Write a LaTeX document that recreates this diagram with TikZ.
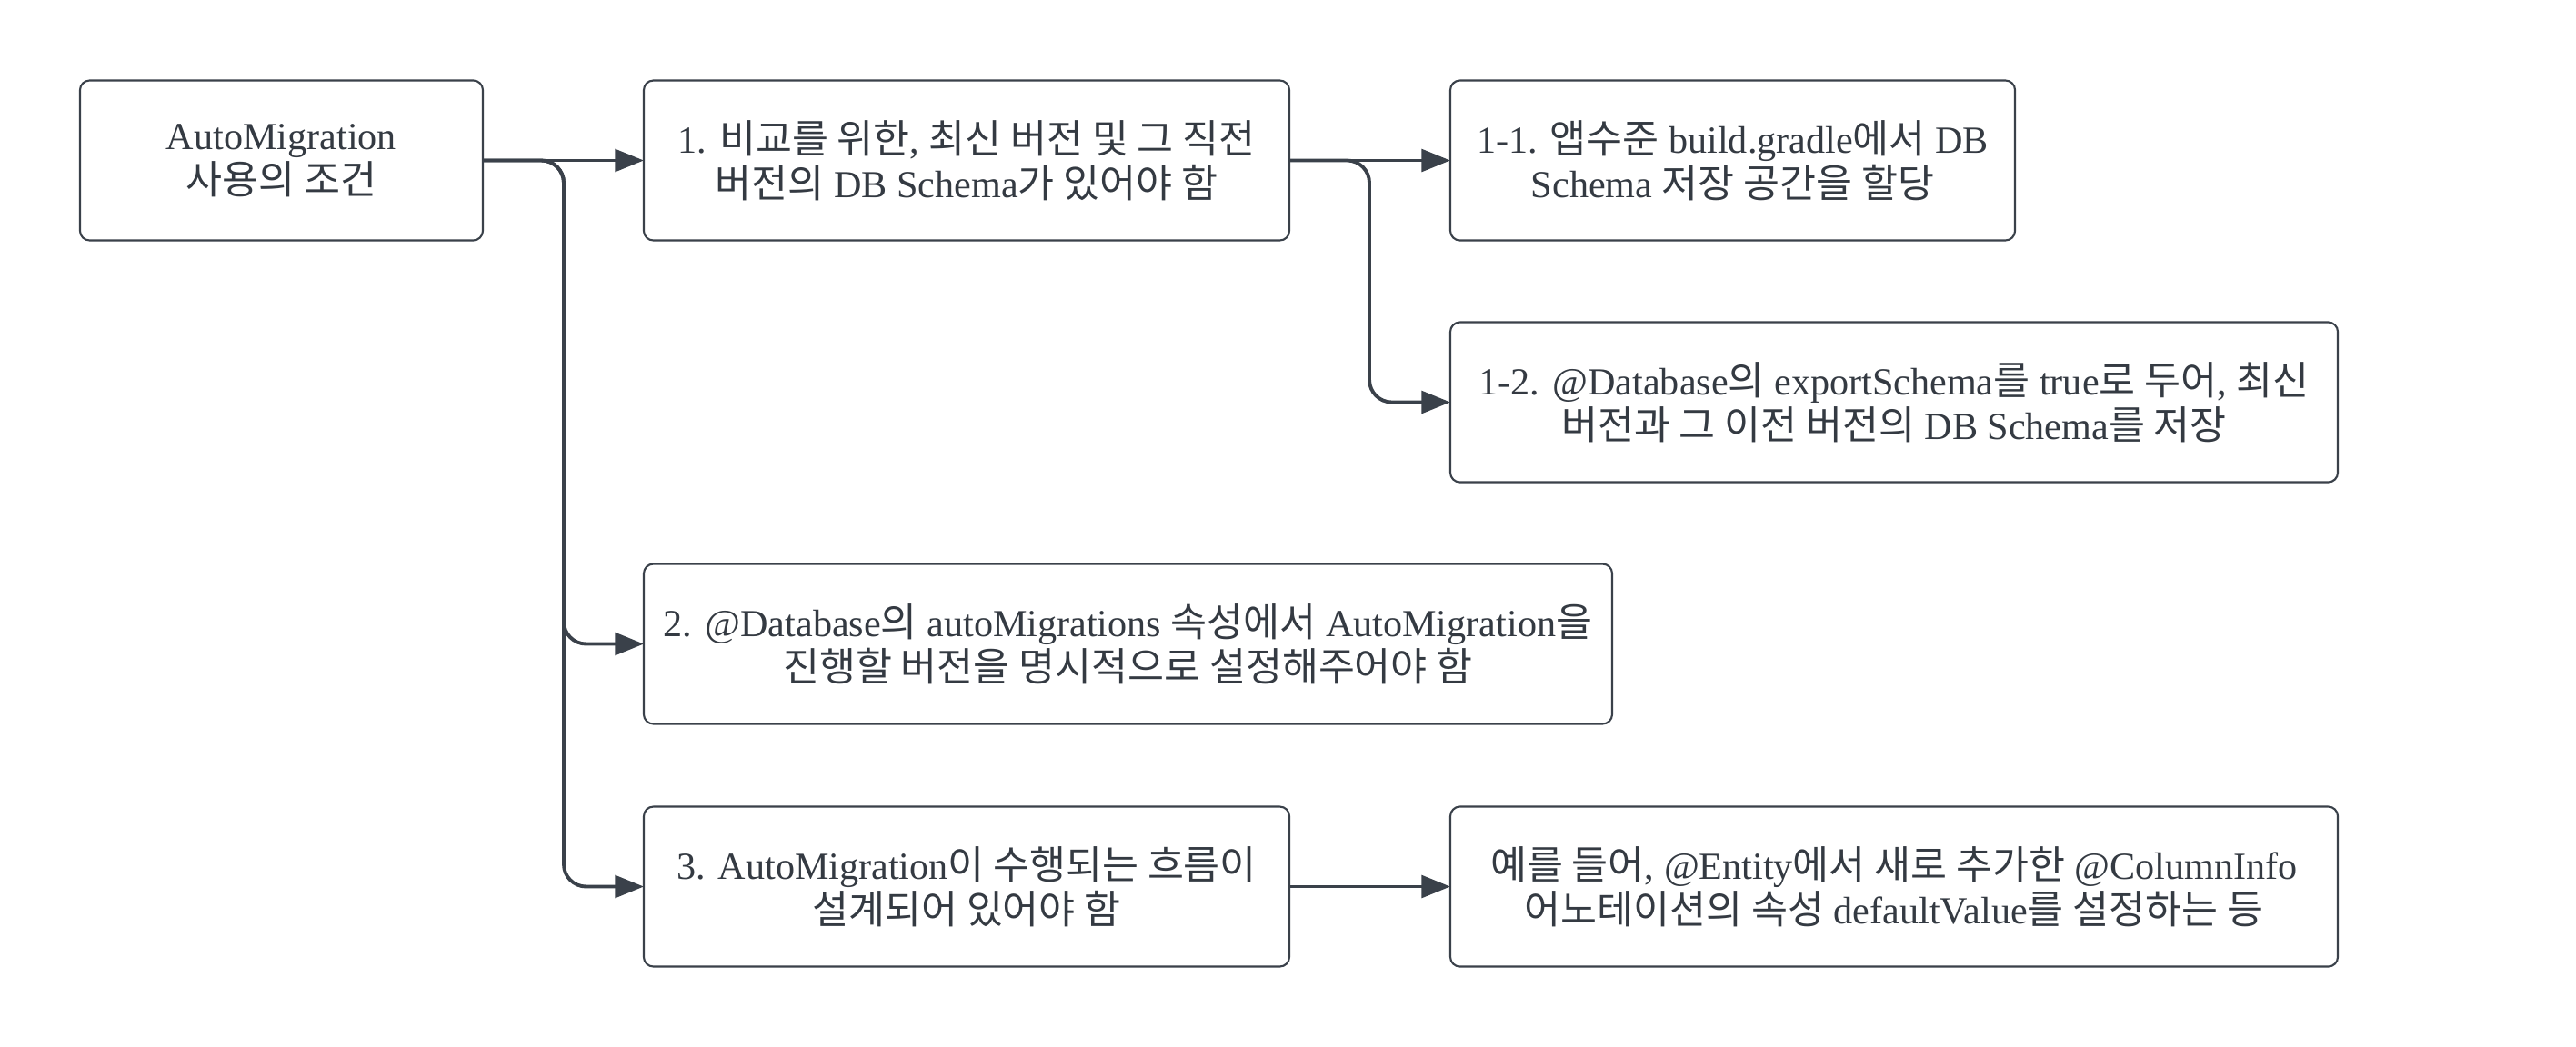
\documentclass[tikz,border=0pt]{standalone}
\usepackage{fontspec}
\setmainfont{Liberation Serif}
\newfontfamily\krfont{Noto Sans CJK KR}[Scale=1.03]
\newcommand{\kr}[1]{{\krfont #1}}
\usepackage{xcolor}
\usetikzlibrary{arrows.meta, positioning}
\definecolor{linegray}{RGB}{58, 65, 74}
\definecolor{textgray}{RGB}{52, 58, 66}

\begin{document}
\begin{tikzpicture}[
  every node/.style={font=\fontsize{12pt}{14pt}\selectfont, text=textgray},
  box/.style={rectangle, rounded corners=3pt, draw=linegray, line width=0.6pt, minimum height=1.76cm, align=center, inner sep=2pt, outer sep=0pt},
  arrow/.style={-{Triangle[length=9pt, width=7pt]}, line width=1.1pt, color=linegray, rounded corners=7pt},
]
  \useasboundingbox (0,0) rectangle (28.33,-11.51);

  \node[box, minimum width=4.43cm, anchor=west] (auto) at (0.88,-1.765) {AutoMigration\\\kr{사용의 조건}};
  \node[box, minimum width=7.10cm, right=1.77cm of auto] (cond1) {1. \kr{비교를 위한}, \kr{최신 버전 및 그 직전}\\\kr{버전의} DB Schema\kr{가 있어야 함}};
  \node[box, minimum width=6.21cm, right=1.77cm of cond1] (cond11) {1-1. \kr{앱수준} build.gradle\kr{에서} DB\\Schema \kr{저장 공간을 할당}};
  \node[box, minimum width=9.76cm, below=0.90cm of cond11.south west, anchor=north west] (cond12) {1-2. @Database\kr{의} exportSchema\kr{를} true\kr{로 두어}, \kr{최신}\\\kr{버전과 그 이전 버전의} DB Schema\kr{를 저장}};
  \node[box, minimum width=10.65cm, below=3.56cm of cond1.south west, anchor=north west] (cond2) {2. @Database\kr{의} autoMigrations \kr{속성에서} AutoMigration\kr{을}\\\kr{진행할 버전을 명시적으로 설정해주어야 함}};
  \node[box, minimum width=7.10cm, below=0.91cm of cond2.south west, anchor=north west] (cond3) {3. AutoMigration\kr{이 수행되는 흐름이}\\\kr{설계되어 있어야 함}};
  \node[box, minimum width=9.76cm, right=1.77cm of cond3] (example) {\kr{예를 들어}, @Entity\kr{에서 새로 추가한} @ColumnInfo\\\kr{어노테이션의 속성} defaultValue\kr{를 설정하는 등}};

  \coordinate[right=0.89cm of auto.east] (splitA);
  \coordinate[right=0.88cm of cond1.east] (splitB);

  \draw[arrow] (auto.east) -- (cond1.west);
  \draw[arrow] (auto.east) -- (splitA) |- (cond2.west);
  \draw[arrow] (auto.east) -- (splitA) |- (cond3.west);
  \draw[arrow] (cond1.east) -- (cond11.west);
  \draw[arrow] (cond1.east) -- (splitB) |- (cond12.west);
  \draw[arrow] (cond3.east) -- (example.west);
\end{tikzpicture}
\end{document}
